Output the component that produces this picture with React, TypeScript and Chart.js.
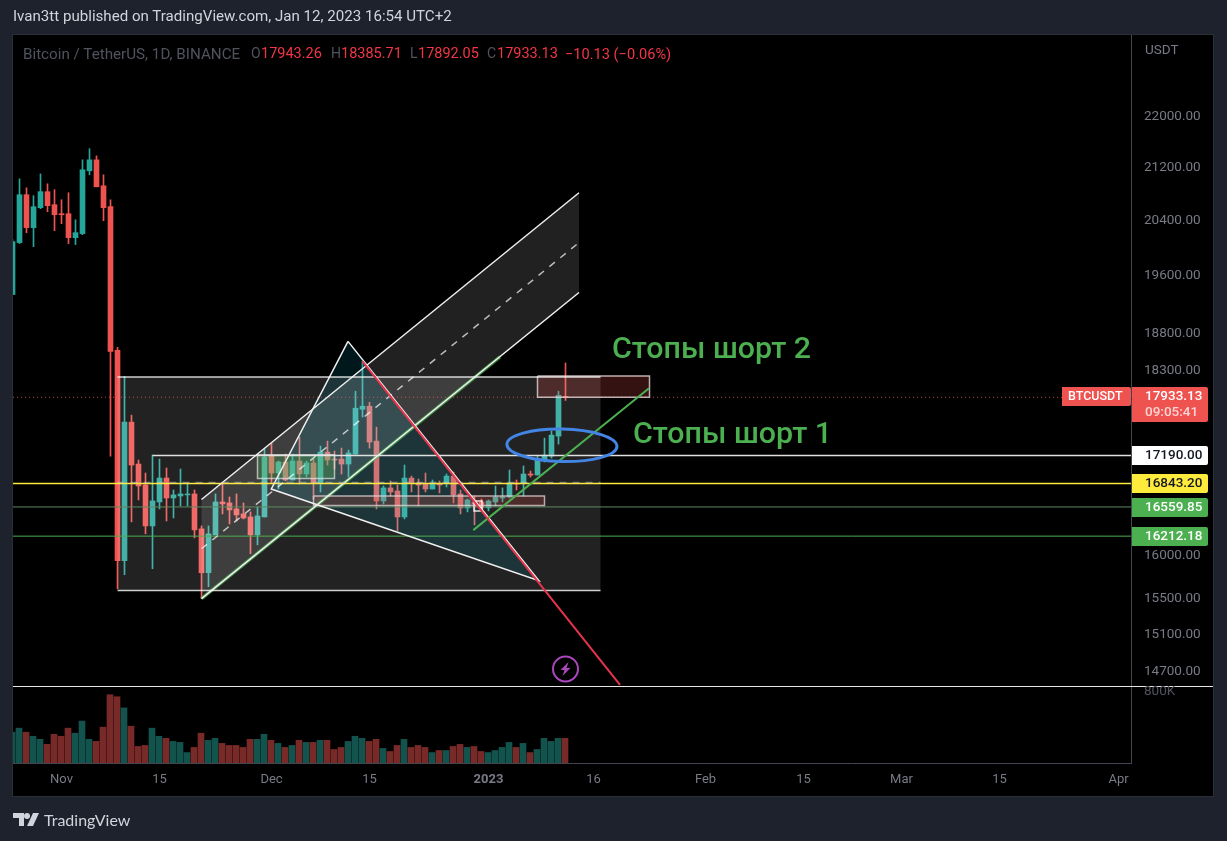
import { useEffect, useRef } from "react";
import { Chart, registerables } from "chart.js";

Chart.register(...registerables);

// one entry per daily candle, first one is Oct 25 2022, last one Jan 12 2023
const OPEN = [19323, 20066, 20776, 20285, 20581, 20822, 20626, 20491, 20491, 20138, 20197, 21140, 21309, 20911, 20596, 18555, 15925, 17612, 17084, 16826, 16333, 16620, 16911, 16668, 16692, 16705, 16717, 16298, 15787, 16227, 16620, 16608, 16536, 16476, 16440, 16227, 16440, 17183, 16973, 17109, 16887, 17121, 16961, 17097, 16850, 17233, 17146, 17146, 17084, 17208, 17778, 17817, 17371, 16632, 16790, 16753, 16440, 16911, 16850, 16838, 16777, 16838, 16850, 16935, 16717, 16548, 16620, 16620, 16548, 16620, 16668, 16680, 16850, 16850, 16961, 16948, 17134, 17183, 17434, 17943.26];
const HIGH = [20109, 21017, 20880, 20761, 21093, 20941, 20852, 20700, 20806, 20402, 21309, 21482, 21371, 21079, 20700, 18595, 18209, 17702, 17134, 16973, 17196, 17146, 17035, 16765, 17022, 16838, 16765, 16333, 16333, 16717, 16838, 16680, 16717, 16608, 16500, 16560, 17271, 17346, 17121, 17208, 17208, 17421, 17121, 17146, 17308, 17371, 17246, 17283, 17258, 18012, 18408, 17868, 17548, 16814, 16875, 16826, 17072, 16935, 16899, 16973, 16887, 16875, 16961, 16985, 16765, 16656, 16692, 16656, 16644, 16814, 16790, 17010, 16887, 17060, 16997, 17183, 17409, 17498, 18012, 18385.71];
const LOW = [19323, 20051, 20211, 20007, 20566, 20521, 20241, 20343, 20051, 20037, 20182, 21079, 20896, 20387, 17183, 15605, 15764, 16381, 16644, 16239, 15833, 16536, 16392, 16428, 16572, 16572, 16192, 15492, 15628, 16227, 16476, 16357, 16392, 16416, 16006, 16110, 16440, 16850, 16777, 16875, 16887, 16838, 16923, 16656, 16741, 17072, 17022, 16961, 16923, 17208, 17676, 17283, 16536, 16596, 16692, 16274, 16416, 16741, 16572, 16741, 16777, 16729, 16802, 16608, 16476, 16500, 16345, 16536, 16512, 16572, 16620, 16668, 16765, 16692, 16923, 16948, 17109, 17158, 17333, 17892.05];
const CLOSE = [20080, 20776, 20285, 20596, 20822, 20611, 20476, 20476, 20138, 20211, 21156, 21309, 20896, 20581, 18542, 15925, 17612, 17072, 16814, 16333, 16632, 16911, 16668, 16705, 16717, 16717, 16286, 15787, 16239, 16620, 16596, 16524, 16464, 16428, 16227, 16452, 17171, 16973, 17109, 16887, 17121, 16961, 17097, 16850, 17233, 17134, 17134, 17084, 17221, 17791, 17817, 17359, 16632, 16790, 16741, 16440, 16911, 16850, 16826, 16777, 16838, 16826, 16935, 16705, 16548, 16644, 16596, 16548, 16632, 16680, 16680, 16850, 16838, 16961, 16948, 17134, 17196, 17447, 17959, 17933.13];
const VOLUME = [342, 387, 342, 297, 263, 207, 319, 297, 387, 331, 466, 263, 240, 398, 759, 736, 612, 409, 184, 195, 387, 297, 274, 240, 229, 116, 173, 331, 252, 274, 218, 195, 195, 173, 263, 263, 319, 252, 218, 173, 195, 252, 229, 229, 252, 252, 150, 173, 240, 297, 274, 240, 263, 162, 128, 195, 263, 173, 195, 173, 116, 139, 139, 184, 207, 173, 184, 128, 116, 139, 173, 229, 173, 218, 116, 150, 274, 240, 274, 274];

const PRICE_TICKS = [22000, 21200, 20400, 19600, 18800, 18300, 16000, 15500, 15100, 14700];
const DATE_TICKS = [7, 21, 37, 51, 68, 83, 99, 113, 127, 141, 158];
const DATE_LABELS = ["Nov", "15", "Dec", "15", "2023", "16", "Feb", "15", "Mar", "15", "Apr"];
const YEAR_TICK = 68;

const LAST_PRICE = 17933.13;
const LEVEL_RESIST = 17190;
const LEVEL_YELLOW = 16843.2;
const LEVEL_GREEN_1 = 16559.85;
const LEVEL_GREEN_2 = 16212.18;

// drawings on the chart, each point is [day index, price]
const CHANNEL_UPPER = [[27, 16650], [80.93, 20806]];
const CHANNEL_MID = [[27, 16064], [80.93, 20066]];
const CHANNEL_LOWER = [[27, 15492], [80.93, 19351]];
const CHANNEL_GREEN = [[27, 15492], [69.64, 18466]];
const TRIANGLE = [[47.93, 18676], [36.97, 16777], [75.2, 15695]];
const RED_LINE = [[49.97, 18411], [86.79, 14551]];
const STOP_LINE = [[65.83, 16283], [90.93, 18051]];
const RANGE_TOP = [[15, 18199], [84, 18199]];
const RANGE_MID = [[15, 16857], [84, 16857]];
const RANGE_BOTTOM = [[15, 15585], [84, 15585]];
const GREEN_BOX = [[35, 17200], [46, 16907]];
const PINK_BOX = [[43, 16692], [76, 16576]];
const SMALL_BOX = [[65.93, 16632], [67.07, 16512]];
const STOPS_BOX = [[75, 18214], [91, 17933]];
const ELLIPSE = { day: 78.49, top: 17523, bottom: 17115, days: 7.86 };

const NOTES = [
  { text: "Стопы шорт 2", day: 85.64, price: 18581 },
  { text: "Стопы шорт 1", day: 88.64, price: 17471 },
];
const ICON = { day: 79, price: 14721 };

const LEGEND: [string, number, string, number][] = [
  ["Bitcoin / TetherUS, 1D, BINANCE", 23, "#50535e", 15.2],
  ["O", 251, "#50535e", 14],
  ["17943.26", 261, "#f23645", 14.5],
  ["H", 331, "#50535e", 14],
  ["18385.71", 341, "#f23645", 14.5],
  ["L", 410, "#50535e", 14],
  ["17892.05", 418, "#f23645", 14.5],
  ["C", 487, "#50535e", 14],
  ["17933.13", 497, "#f23645", 14.5],
  ["−10.13 (−0.06%)", 565, "#f23645", 14.6],
];

const TEAL = "#26a69a";
const RED = "#ef5350";
const FONT = "Roboto, sans-serif";
const X_MIN = 0.5 / 7;
const X_MAX = 1118.5 / 7;

const isUp = (i: number) => CLOSE[i] >= OPEN[i];

function lineSet(data: number[][], color: string, width: number, dash: number[] = [], order = 2) {
  return {
    type: "line",
    data: data.map(([x, y]) => ({ x, y })),
    borderColor: color,
    borderWidth: width,
    borderDash: dash,
    pointRadius: 0,
    fill: false,
    tension: 0,
    order,
    xAxisID: "x",
    yAxisID: "y",
  };
}

function boxPath(b: number[][]) {
  return [[b[0][0], b[0][1]], [b[1][0], b[0][1]], [b[1][0], b[1][1]], [b[0][0], b[1][1]], [b[0][0], b[0][1]]];
}

function badge(ctx: any, x: number, y: number, w: number, h: number, bg: string) {
  ctx.fillStyle = bg;
  ctx.beginPath();
  ctx.roundRect(x, y, w, h, [0, 2, 2, 0]);
  ctx.fill();
}

// translucent shapes go right above the candles, below every line
const shapesPlugin = {
  id: "shapes",
  afterDatasetDraw(chart: any, args: any) {
    if (args.index !== 1) return;
    const { ctx, chartArea, scales } = chart;
    const poly = (list: number[][], color: string) => {
      ctx.fillStyle = color;
      ctx.beginPath();
      list.forEach((p, i) => {
        const x = scales.x.getPixelForValue(p[0]);
        const y = scales.y.getPixelForValue(p[1]);
        if (i === 0) ctx.moveTo(x, y);
        else ctx.lineTo(x, y);
      });
      ctx.closePath();
      ctx.fill();
    };
    ctx.save();
    ctx.beginPath();
    ctx.rect(chartArea.left, chartArea.top, chartArea.width, chartArea.height);
    ctx.clip();
    poly(boxPath([RANGE_TOP[0], RANGE_BOTTOM[1]]), "rgba(255,255,255,0.135)");
    poly([CHANNEL_UPPER[0], CHANNEL_UPPER[1], CHANNEL_LOWER[1], CHANNEL_LOWER[0]], "rgba(255,255,255,0.13)");
    poly(TRIANGLE, "rgba(0,188,212,0.13)");
    poly(boxPath(GREEN_BOX), "rgba(76,175,80,0.3)");
    poly(boxPath(PINK_BOX), "rgba(239,83,80,0.2)");
    poly(boxPath(STOPS_BOX), "rgba(239,83,80,0.22)");
    ctx.restore();
  },
};

const overlayPlugin = {
  id: "overlay",
  beforeDraw(chart: any) {
    const { ctx } = chart;
    ctx.save();
    ctx.fillStyle = "#000";
    ctx.fillRect(13, 35, 1200, 761);
    ctx.strokeStyle = "#2a2e39";
    ctx.strokeRect(12.5, 34.5, 1201, 762);
    ctx.restore();
  },
  afterDraw(chart: any) {
    const { ctx, scales } = chart;
    const { x, y, y2 } = scales;
    ctx.save();

    ctx.fillStyle = "#e6e6e6";
    ctx.fillRect(13, 686, 1200, 1);

    // blue ellipse
    ctx.strokeStyle = "#4285e4";
    ctx.lineWidth = 3;
    ctx.beginPath();
    const top = y.getPixelForValue(ELLIPSE.top);
    const bottom = y.getPixelForValue(ELLIPSE.bottom);
    const rx = x.getPixelForValue(ELLIPSE.day + ELLIPSE.days) - x.getPixelForValue(ELLIPSE.day);
    ctx.ellipse(x.getPixelForValue(ELLIPSE.day), (top + bottom) / 2, rx, (bottom - top) / 2, 0.02, 0, Math.PI * 2);
    ctx.stroke();

    // alert icon
    const ix = x.getPixelForValue(ICON.day);
    const iy = y.getPixelForValue(ICON.price);
    ctx.strokeStyle = "#ab47bc";
    ctx.lineWidth = 2;
    ctx.beginPath();
    ctx.arc(ix, iy, 12.5, 0, Math.PI * 2);
    ctx.stroke();
    ctx.fillStyle = "#ab47bc";
    ctx.beginPath();
    [[3, -7], [-5, 1], [-1, 1], [-3, 7], [5, -1], [1, -1]].forEach(([dx, dy], i) => {
      if (i === 0) ctx.moveTo(ix + dx, iy + dy);
      else ctx.lineTo(ix + dx, iy + dy);
    });
    ctx.closePath();
    ctx.fill();

    // notes
    ctx.fillStyle = "#4caf50";
    ctx.font = `500 30.4px ${FONT}`;
    ctx.textAlign = "left";
    ctx.textBaseline = "middle";
    NOTES.forEach((n) => ctx.fillText(n.text, x.getPixelForValue(n.day), y.getPixelForValue(n.price) + 2));

    // right axis texts and price badges
    ctx.fillStyle = "#787b86";
    ctx.font = `13.5px ${FONT}`;
    ctx.fillText("USDT", 1145, 51);
    ctx.fillStyle = "#50535e";
    ctx.fillText("800K", 1144, y2.getPixelForValue(800000) + 1);

    const levels = [
      { value: LEVEL_RESIST, text: LEVEL_RESIST.toFixed(2), bg: "#ffffff", fg: "#131722" },
      { value: LEVEL_YELLOW, text: LEVEL_YELLOW.toFixed(2), bg: "#ffeb3b", fg: "#131722" },
      { value: LEVEL_GREEN_1, text: LEVEL_GREEN_1.toFixed(2), bg: "#4caf50", fg: "#ffffff" },
      { value: LEVEL_GREEN_2, text: LEVEL_GREEN_2.toFixed(2), bg: "#4caf50", fg: "#ffffff" },
    ];
    ctx.font = `500 13.5px ${FONT}`;
    levels.forEach((l) => {
      const boxTop = Math.round(y.getPixelForValue(l.value) - 9.2);
      badge(ctx, 1132, boxTop, 76, 19, l.bg);
      ctx.fillStyle = l.fg;
      ctx.fillText(l.text, 1145, boxTop + 10);
    });

    const lastTop = Math.round(y.getPixelForValue(LAST_PRICE) - 9.9);
    badge(ctx, 1132, lastTop, 76, 35, RED);
    badge(ctx, 1062, lastTop, 69, 19, RED);
    ctx.fillStyle = "#ffffff";
    ctx.fillText(LAST_PRICE.toFixed(2), 1145, lastTop + 10);
    ctx.fillStyle = "rgba(255,255,255,0.75)";
    ctx.fillText("09:05:41", 1145, lastTop + 26);
    ctx.fillStyle = "#ffffff";
    ctx.font = `500 12.5px ${FONT}`;
    ctx.fillText("BTCUSDT", 1068, lastTop + 10);
    ctx.restore();
  },
};

export default function App() {
  const ref = useRef<HTMLCanvasElement | null>(null);

  useEffect(() => {
    if (!ref.current) return;
    document.body.style.margin = "0";
    document.body.style.background = "#1e222d";

    const days = OPEN.map((_, i) => i);
    const chart = new Chart(ref.current, {
      type: "bar",
      plugins: [shapesPlugin, overlayPlugin],
      data: {
        datasets: [
          {
            data: days.map((i) => ({ x: i, y: [LOW[i], HIGH[i]] })),
            backgroundColor: days.map((i) => (isUp(i) ? TEAL : RED)),
            barThickness: 1,
            grouped: false,
            order: 8,
            xAxisID: "x",
            yAxisID: "y",
          },
          {
            data: days.map((i) => ({ x: i, y: [OPEN[i], CLOSE[i]] })),
            backgroundColor: days.map((i) => (isUp(i) ? TEAL : RED)),
            barThickness: 5,
            grouped: false,
            order: 7,
            xAxisID: "x",
            yAxisID: "y",
          },
          {
            data: days.map((i) => ({ x: i - 1 / 14, y: VOLUME[i] * 1000 })),
            backgroundColor: days.map((i) => (isUp(i) ? "rgba(38,166,154,0.5)" : "rgba(239,83,80,0.5)")),
            barThickness: 6,
            grouped: false,
            order: 9,
            xAxisID: "x",
            yAxisID: "y2",
          },
          lineSet(CHANNEL_GREEN, "rgba(76,175,80,0.7)", 3.5, [], 3),
          lineSet(RANGE_TOP, "rgba(255,255,255,0.8)", 1.5),
          lineSet(RANGE_BOTTOM, "rgba(255,255,255,0.8)", 1.5),
          lineSet(RANGE_MID, "rgba(200,200,200,0.5)", 1.5, [7, 6]),
          lineSet(CHANNEL_UPPER, "#f0f0f0", 1.5),
          lineSet(CHANNEL_LOWER, "#f0f0f0", 1.5),
          lineSet(CHANNEL_MID, "rgba(255,255,255,0.7)", 1.5, [7, 7]),
          lineSet([...TRIANGLE, TRIANGLE[0]], "#f0f0f0", 1.5),
          lineSet(boxPath(GREEN_BOX), "rgba(230,230,230,0.7)", 1.5),
          lineSet(boxPath(PINK_BOX), "rgba(230,215,215,0.75)", 1.5),
          lineSet(boxPath(SMALL_BOX), "rgba(255,255,255,0.85)", 1.5),
          lineSet(boxPath(STOPS_BOX), "rgba(230,215,215,0.8)", 1.5),
          lineSet([[20, LEVEL_RESIST], [X_MAX, LEVEL_RESIST]], "#e0e0e0", 1.5),
          lineSet([[X_MIN, LEVEL_YELLOW], [X_MAX, LEVEL_YELLOW]], "#ffeb3b", 1.5),
          lineSet([[X_MIN, LEVEL_GREEN_1], [X_MAX, LEVEL_GREEN_1]], "#5f8a62", 1),
          lineSet([[X_MIN, LEVEL_GREEN_2], [X_MAX, LEVEL_GREEN_2]], "#4caf50", 1),
          lineSet([[X_MIN, LAST_PRICE], [X_MAX, LAST_PRICE]], "rgba(239,83,80,0.8)", 1, [1, 3]),
          lineSet(RED_LINE, "#e6344a", 2, [], 1),
          lineSet(STOP_LINE, "#4caf50", 2, [], 1),
        ] as any,
      },
      options: {
        responsive: false,
        animation: false,
        devicePixelRatio: 1,
        events: [],
        layout: { padding: { left: 13, top: 35, right: 14, bottom: 45 } },
        plugins: { legend: { display: false }, tooltip: { enabled: false } },
        scales: {
          x: {
            type: "linear",
            offset: false,
            min: X_MIN,
            max: X_MAX,
            grid: { display: false, drawTicks: false },
            border: { color: "#434651" },
            afterFit: (s: any) => { s.height = 33; },
            afterBuildTicks: (s: any) => { s.ticks = DATE_TICKS.map((value) => ({ value })); },
            ticks: {
              autoSkip: false,
              maxRotation: 0,
              padding: 9,
              font: (c: any) => ({ family: FONT, size: 13, weight: c.tick && c.tick.value === YEAR_TICK ? "bold" : "normal" }),
              color: "#787b86",
              callback: (v: any) => DATE_LABELS[DATE_TICKS.indexOf(v)],
            },
          },
          y: {
            type: "logarithmic",
            position: "right",
            min: 13749,
            max: 23332,
            grid: { display: false, drawTicks: false },
            border: { color: "#434651" },
            afterFit: (s: any) => { s.width = 82; },
            afterBuildTicks: (s: any) => { s.ticks = PRICE_TICKS.map((value) => ({ value })); },
            ticks: {
              autoSkip: false,
              padding: 13,
              labelOffset: 1,
              font: { family: FONT, size: 13.5 },
              color: "#787b86",
              callback: (v: any) => Number(v).toFixed(2),
            },
          },
          y2: { type: "linear", display: false, min: 0, max: 8089000 },
        },
      } as any,
    });

    return () => chart.destroy();
  }, []);

  return (
    <div style={{ position: "fixed", left: 0, top: 0, width: 1227, height: 841, background: "#1e222d", fontFamily: FONT }}>
      <canvas ref={ref} width={1227} height={841} style={{ display: "block" }} />
      <div style={{ position: "absolute", left: 13, top: 7, fontSize: 15.1, color: "#d1d4dc", whiteSpace: "nowrap" }}>
        Ivan3tt published on TradingView.com, Jan 12, 2023 16:54 UTC+2
      </div>
      {LEGEND.map(([text, left, color, size]) => (
        <span key={left} style={{ position: "absolute", left, top: 45, fontSize: size, color, whiteSpace: "nowrap" }}>{text}</span>
      ))}
      <svg style={{ position: "absolute", left: 13, top: 812 }} width={26} height={15}>
        <path d="M0 1h11v13H6V6H0z M26 1l-6 13h-6l6-13z" fill="#d1d4dc" />
        <circle cx={14} cy={4} r={3} fill="#d1d4dc" />
      </svg>
      <div style={{ position: "absolute", left: 44, top: 810, fontSize: 16, color: "#d1d4dc", fontFamily: "Lato, sans-serif", whiteSpace: "nowrap" }}>
        TradingView
      </div>
    </div>
  );
}
